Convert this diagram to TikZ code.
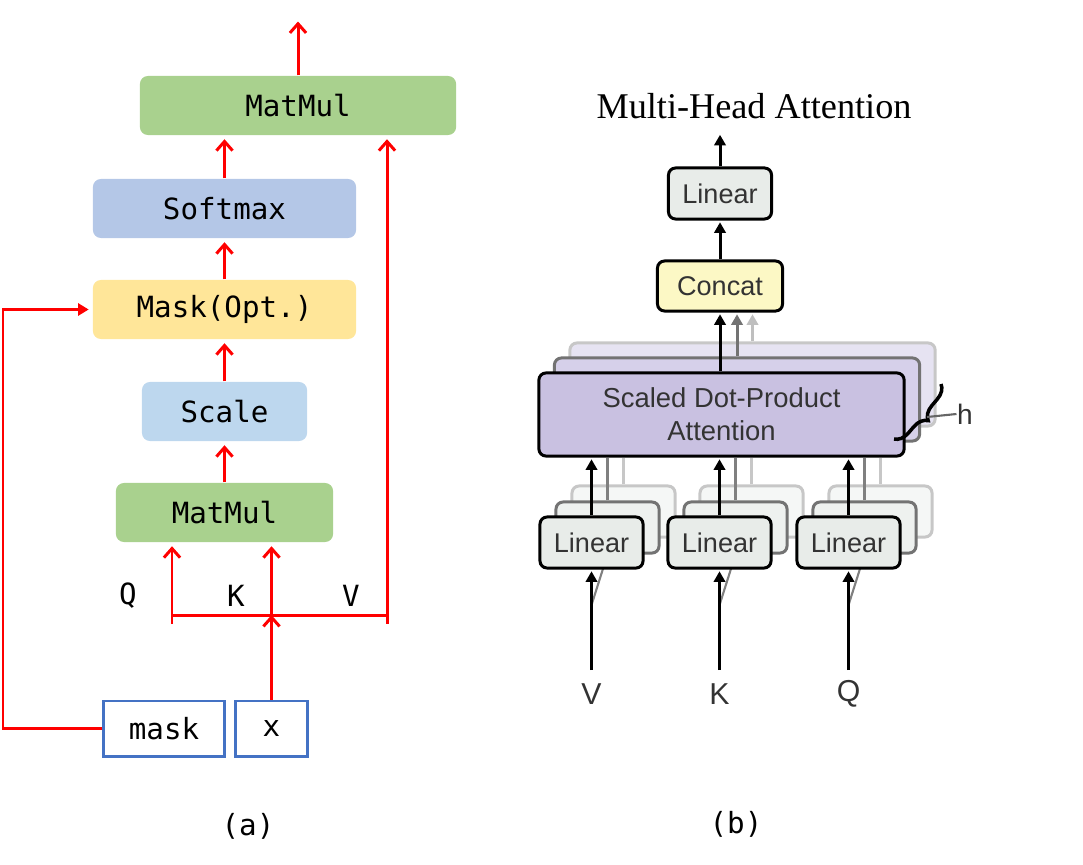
\documentclass[tikz,border=0pt]{standalone}
\usepackage{fontspec}
\setmainfont{Liberation Sans}
\newfontfamily\monoFont{DejaVu Sans Mono}
\newfontfamily\titleFont{Liberation Serif}
\usetikzlibrary{positioning, arrows.meta, decorations.pathreplacing}
\definecolor{matmulGreen}{HTML}{A9D18E}
\definecolor{softmaxBlue}{HTML}{B4C7E7}
\definecolor{maskYellow}{HTML}{FFE699}
\definecolor{scaleBlue}{HTML}{BDD7EE}
\definecolor{inputBlue}{HTML}{4472C4}
\definecolor{textGrey}{HTML}{333333}
\definecolor{linearGrey}{HTML}{E8ECE9}
\definecolor{linearNear}{HTML}{EEF1EF}
\definecolor{linearFar}{HTML}{F5F7F6}
\definecolor{concatYellow}{HTML}{FCF8C5}
\definecolor{sdpaPurple}{HTML}{C9C1E1}
\definecolor{sdpaNear}{HTML}{D6D0EA}
\definecolor{sdpaFar}{HTML}{E6E3F2}
\tikzstyle{opBox} = [rounded corners=.08cm, inner sep=0pt, minimum height=.59cm, font=\monoFont\fontsize{8.3}{10}\selectfont]
\tikzstyle{inputBox} = [draw=inputBlue, line width=.85pt, fill=white, inner sep=0pt, minimum height=.55cm, font=\monoFont\fontsize{8.3}{10}\selectfont]
\tikzstyle{monoText} = [inner sep=0pt, font=\monoFont\fontsize{8.3}{10}\selectfont]
\tikzstyle{redLine} = [red, line width=.85pt]
\tikzstyle{redArrow} = [redLine, -{Straight Barb[length=2.6pt, width=4.6pt]}, shorten >=1pt]
\tikzstyle{redTriArrow} = [redLine, -{Triangle[length=3pt, width=3.4pt]}, shorten >=1pt]
\tikzstyle{paperBox} = [draw=black, line width=.85pt, rounded corners=.07cm, inner sep=0pt, text=textGrey, font=\fontsize{7.7}{9.4}\selectfont]
\tikzstyle{linearBox} = [paperBox, fill=linearGrey, minimum width=1.03cm, minimum height=.51cm]
\tikzstyle{sdpaBox} = [paperBox, minimum width=3.65cm, minimum height=.83cm]
\tikzstyle{backNear} = [draw=black!55]
\tikzstyle{backFar} = [draw=black!22]
\tikzstyle{paperText} = [inner sep=0pt, text=textGrey, font=\fontsize{8.6}{10}\selectfont]
\tikzstyle{blackArrow} = [line width=.85pt, -{Triangle[length=3pt, width=3.2pt]}, shorten >=.5pt]
\tikzstyle{greyArrowNear} = [blackArrow, black!55]
\tikzstyle{greyArrowFar} = [blackArrow, black!25]
\tikzstyle{greyLineNear} = [line width=.85pt, black!50]
\tikzstyle{greyLineFar} = [line width=.85pt, black!22]
\newcommand{\linearStack}[3]{
  \node[linearBox, backFar, fill=linearFar] (#1C) at (#2 + 32, 511.5) {};
  \draw[greyLineFar] (#1C.north) -- (#1C.north |- sdpa.south);
  \node[linearBox, backNear, fill=linearNear] (#1B) at (#2 + 16, 527.5) {};
  \draw[greyLineNear] (#1B.north) -- (#1B.north |- sdpa.south);
  \coordinate (#1Diag) at (#2, 605);
  \draw[greyLineNear, line width=.6pt] (#1Diag) -- (#1B.south);
  \node[linearBox] (#1) at (#2, 542.5) {Linear};
  \draw[blackArrow] (#1.north) -- (#1.north |- sdpa.south);
  \coordinate (#1Start) at (#2, 670);
  \node[paperText] (#1In) at (#2, 694) {#3};
  \draw[blackArrow] (#1Start) -- (#1.south);
}

\begin{document}
\begin{tikzpicture}[x=.01cm, y=-.01cm]
  \useasboundingbox (0,0) rectangle (1083,864);
  % (a) scaled dot-product attention
  \node[opBox, fill=matmulGreen, minimum width=3.16cm] (matmulTop) at (298,105.5) {MatMul};
  \node[opBox, fill=softmaxBlue, minimum width=2.63cm] (softmax) at (224.5,208.5) {Softmax};
  \node[opBox, fill=maskYellow, minimum width=2.63cm] (maskOpt) at (224.5,309.5) {Mask(Opt.)};
  \node[opBox, fill=scaleBlue, minimum width=1.65cm] (scale) at (224.5,411.5) {Scale};
  \node[opBox, fill=matmulGreen, minimum width=2.17cm] (matmulBot) at (224.5,512.5) {MatMul};
  \node[inputBox, minimum width=1.2cm] (maskIn) at (164,728.5) {mask};
  \node[inputBox, minimum width=.71cm] (xIn) at (271.5,728.5) {x};
  \node[monoText] (qLabel) at (128,596) {Q};
  \node[monoText] (kLabel) at (236,596) {K};
  \node[monoText] (vLabel) at (351,596) {V};
  \coordinate (outTop) at (298,18);
  \coordinate (qJoin) at (172,615);
  \coordinate (kJoin) at (271.5,615);
  \coordinate (vJoin) at (387,615);
  \coordinate (qTick) at (172,624);
  \coordinate (vTick) at (387,624);
  \coordinate (maskCorner) at (3,728.5);
  \draw[redArrow] (matmulTop.north) -- (outTop);
  \draw[redArrow] (softmax.north) -- (softmax.north |- matmulTop.south);
  \draw[redArrow] (maskOpt.north) -- (softmax.south);
  \draw[redArrow] (scale.north) -- (maskOpt.south);
  \draw[redArrow] (matmulBot.north) -- (scale.south);
  \draw[redLine] (qTick) -- (qJoin) -- (vJoin) -- (vTick);
  \draw[redArrow] (qJoin) -- (qJoin |- matmulBot.south);
  \draw[redArrow] (kJoin) -- (kJoin |- matmulBot.south);
  \draw[redArrow] (vJoin) -- (vJoin |- matmulTop.south);
  \draw[redArrow, shorten >=0pt] (xIn.north) -- (kJoin);
  \draw[redTriArrow] (maskIn.west) -- (maskCorner) |- (maskOpt.west);
  \node[monoText] (capA) at (248,826) {(a)};
  % (b) multi-head attention
  \node[font=\titleFont\fontsize{10.3}{12}\selectfont] (mhaTitle) at (754,106) {Multi-Head Attention};
  \node[linearBox] (linOut) at (720,193.5) {Linear};
  \coordinate (mhaOut) at (720,133);
  \node[paperBox, fill=concatYellow, minimum width=1.25cm, minimum height=.5cm] (concat) at (720,286) {Concat};
  \node[sdpaBox, backFar, fill=sdpaFar] (sdpaC) at (752.5,384.5) {};
  \draw[greyArrowFar] (sdpaC.north) -- (sdpaC.north |- concat.south);
  \node[sdpaBox, backNear, fill=sdpaNear] (sdpaB) at (737,399.5) {};
  \draw[greyArrowNear] (sdpaB.north) -- (sdpaB.north |- concat.south);
  \node[sdpaBox, fill=sdpaPurple, align=center, font=\fontsize{7.8}{9.4}\selectfont] (sdpa) at (721.5,414.5) {Scaled Dot-Product\\Attention};
  \draw[blackArrow] (concat.south |- sdpa.north) -- (concat.south);
  \draw[blackArrow] (concat.north) -- (linOut.south);
  \draw[blackArrow] (linOut.north) -- (mhaOut);
  \coordinate (braceLow) at (894,439);
  \coordinate (braceHigh) at (941,384);
  \coordinate (braceTip) at (927,417);
  \node[paperText, font=\fontsize{8}{10}\selectfont] (hLabel) at (965,414) {h};
  \draw[line width=1pt, decorate, decoration={brace, mirror, amplitude=4pt, aspect=.5}] (braceLow) -- (braceHigh);
  \draw[line width=.6pt, black!60] (braceTip) -- (hLabel.west);
  \linearStack{linV}{591.5}{V}
  \linearStack{linK}{719.5}{K}
  \linearStack{linQ}{848.5}{Q}
  \node[monoText] (capB) at (736,824) {(b)};
\end{tikzpicture}
\end{document}
